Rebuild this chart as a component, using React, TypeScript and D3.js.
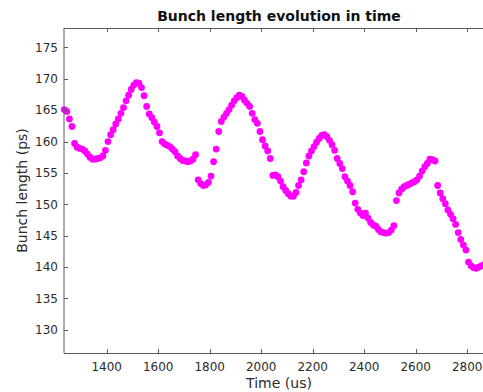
import React, { useEffect, useRef } from 'react';
import * as d3 from 'd3';

// sample times (us)
const times = [
  1235, 1245, 1255, 1265, 1275, 1285, 1295, 1305, 1315, 1325, 1335, 1345, 1355, 1365, 1375, 1385, 1395,
  1405, 1415, 1425, 1435, 1445, 1455, 1465, 1475, 1485, 1495, 1505, 1515, 1525, 1535, 1545, 1555, 1565,
  1575, 1585, 1595, 1605, 1615, 1625, 1635, 1645, 1655, 1665, 1675, 1685, 1695, 1705, 1715, 1725, 1735,
  1745, 1755, 1765, 1775, 1785, 1795, 1805, 1815, 1825, 1835, 1845, 1855, 1865, 1875, 1885, 1895, 1905,
  1915, 1925, 1935, 1945, 1955, 1965, 1975, 1985, 1995, 2005, 2015, 2025, 2035, 2045, 2055, 2065, 2075,
  2085, 2095, 2105, 2115, 2125, 2135, 2145, 2155, 2165, 2175, 2185, 2195, 2205, 2215, 2225, 2235, 2245,
  2255, 2265, 2275, 2285, 2295, 2305, 2315, 2325, 2335, 2345, 2355, 2365, 2375, 2385, 2395, 2405, 2415,
  2425, 2435, 2445, 2455, 2465, 2475, 2485, 2495, 2505, 2515, 2525, 2535, 2545, 2555, 2565, 2575, 2585,
  2595, 2605, 2615, 2625, 2635, 2645, 2655, 2665, 2675, 2685, 2695, 2705, 2715, 2725, 2735, 2745, 2755,
  2765, 2775, 2785, 2795, 2805, 2815, 2825, 2835, 2845, 2855, 2865,
];

// bunch length (ps)
const bunchLength = [
  165.1, 164.8, 163.6, 162.4, 159.7, 159.1, 158.9, 158.8, 158.5, 158.0, 157.5, 157.2, 157.2, 157.3, 157.4,
  157.7, 158.6, 160.0, 161.1, 161.9, 162.8, 163.6, 164.5, 165.4, 166.5, 167.4, 168.3, 169.0, 169.4, 169.3,
  168.6, 167.3, 165.6, 164.4, 163.8, 163.1, 162.4, 161.4, 160.0, 159.6, 159.4, 159.2, 158.8, 158.4, 157.7,
  157.3, 157.0, 156.9, 156.8, 156.9, 157.2, 157.9,
  153.9, 153.3, 153.0, 153.1, 153.5, 154.5, 156.8, 158.8, 161.6, 163.2, 163.9, 164.5, 165.1, 165.8, 166.5,
  167.0, 167.4, 167.2, 166.6, 166.1, 165.6, 164.5, 163.5, 162.9, 161.6, 160.3, 159.3, 158.5, 157.3, 154.6,
  154.7, 154.4, 153.7, 152.8, 152.2, 151.7, 151.3, 151.3, 151.9, 153.0, 153.9, 155.2, 156.6, 157.7, 158.5,
  159.2, 159.9, 160.5, 161.0, 161.1, 160.8, 160.2, 159.5, 158.6, 157.3, 156.5, 155.7, 154.4, 153.7, 153.0,
  152.0, 150.2, 149.2, 148.6, 148.2, 148.6, 147.8, 147.1, 146.7, 146.5, 146.0, 145.6, 145.5, 145.4, 145.5,
  145.9, 146.6,
  150.6, 151.8, 152.4, 152.8, 153.0, 153.2, 153.4, 153.6, 153.9, 154.5, 155.3, 156.0, 156.5, 157.2, 157.1,
  156.9,
  153.0, 151.8, 150.9, 150.1, 149.1, 148.4, 147.7, 146.8, 145.5, 144.4, 143.5, 142.7, 140.8, 140.2, 139.9,
  139.8, 140.0, 140.2, 140.4,
];

const xTicks = [1400, 1600, 1800, 2000, 2200, 2400, 2600, 2800];
const yTicks = [130, 135, 140, 145, 150, 155, 160, 165, 170, 175];

const W = 483;
const H = 392;

export default function App() {
  const ref = useRef<SVGSVGElement>(null);

  useEffect(() => {
    const svg = d3.select(ref.current);
    svg.selectAll('*').remove();

    const left = 64, right = 494, top = 28, bottom = 353;
    const x = d3.scaleLinear().domain([1234, 2904]).range([left, right]);
    const y = d3.scaleLinear().domain([126.3, 178.1]).range([bottom, top]);
    const axisColor = '#5a5a5a';
    const textColor = '#2b2b2b';
    const font = 'DejaVu Sans, sans-serif';

    svg.append('rect').attr('width', W).attr('height', H).attr('fill', '#fff');

    // points
    svg
      .append('g')
      .selectAll('circle')
      .data(times.map((t, i) => [t, bunchLength[i]]))
      .enter()
      .append('circle')
      .attr('cx', (d) => x(d[0]))
      .attr('cy', (d) => y(d[1]))
      .attr('r', 3.4)
      .attr('fill', '#ff00ff');

    const g = svg.append('g').attr('stroke', axisColor).attr('stroke-width', 1).attr('fill', 'none');
    g.append('line').attr('x1', left).attr('x2', left).attr('y1', top).attr('y2', bottom);
    g.append('line').attr('x1', left).attr('x2', right).attr('y1', top + 0.5).attr('y2', top + 0.5);
    g.append('line').attr('x1', left).attr('x2', right).attr('y1', bottom + 0.5).attr('y2', bottom + 0.5);

    xTicks.forEach((t) => {
      const px = Math.round(x(t)) + 0.5;
      g.append('line').attr('x1', px).attr('x2', px).attr('y1', bottom).attr('y2', bottom - 4);
      g.append('line').attr('x1', px).attr('x2', px).attr('y1', top).attr('y2', top + 4);
    });
    yTicks.forEach((v) => {
      const py = Math.round(y(v)) + 0.5;
      g.append('line').attr('x1', left).attr('x2', left + 4).attr('y1', py).attr('y2', py);
    });

    svg
      .append('g')
      .selectAll('text')
      .data(xTicks)
      .enter()
      .append('text')
      .attr('x', (d) => x(d))
      .attr('y', bottom + 18)
      .attr('text-anchor', 'middle')
      .attr('font-family', font)
      .attr('font-size', 12)
      .attr('fill', textColor)
      .text((d) => d);

    svg
      .append('g')
      .selectAll('text')
      .data(yTicks)
      .enter()
      .append('text')
      .attr('x', left - 6)
      .attr('y', (d) => y(d))
      .attr('dy', '0.35em')
      .attr('text-anchor', 'end')
      .attr('font-family', font)
      .attr('font-size', 12)
      .attr('fill', textColor)
      .text((d) => d);

    svg
      .append('text')
      .attr('x', (left + right) / 2)
      .attr('y', 21)
      .attr('text-anchor', 'middle')
      .attr('font-family', font)
      .attr('font-weight', 'bold')
      .attr('font-size', 14)
      .attr('fill', '#111')
      .text('Bunch length evolution in time');

    svg
      .append('text')
      .attr('x', (left + right) / 2)
      .attr('y', 388)
      .attr('text-anchor', 'middle')
      .attr('font-family', font)
      .attr('font-size', 14)
      .attr('fill', textColor)
      .text('Time (us)');

    svg
      .append('text')
      .attr('transform', `translate(27,${(top + bottom) / 2}) rotate(-90)`)
      .attr('text-anchor', 'middle')
      .attr('font-family', font)
      .attr('font-size', 14)
      .attr('fill', textColor)
      .text('Bunch length (ps)');
  }, []);

  return (
    <svg
      ref={ref}
      width={W}
      height={H}
      style={{ position: 'absolute', left: 0, top: 0, display: 'block' }}
    />
  );
}
